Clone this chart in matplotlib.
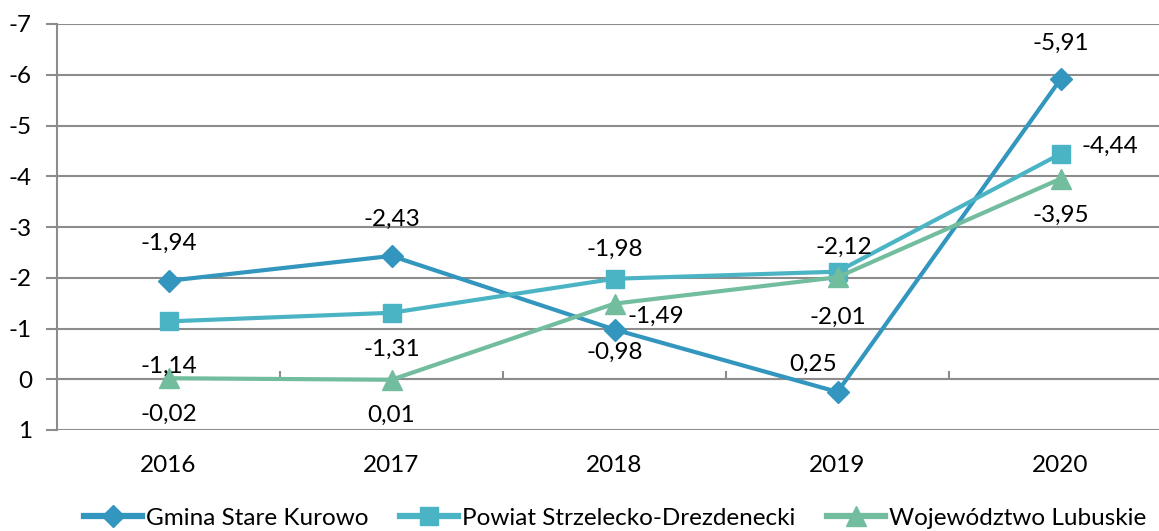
import matplotlib
matplotlib.use("Agg")
import matplotlib.pyplot as plt
import numpy as np

plt.rcParams['font.family'] = ['Lato', 'DejaVu Sans']

years = ["2016", "2017", "2018", "2019", "2020"]
gmina = [-1.94, -2.43, -0.98, 0.25, -5.91]
powiat = [-1.14, -1.31, -1.98, -2.12, -4.44]
woj = [-0.02, 0.01, -1.49, -2.01, -3.95]
series_names = ["Gmina Stare Kurowo", "Powiat Strzelecko-Drezdenecki", "Województwo Lubuskie"]
yticks = [-7, -6, -5, -4, -3, -2, -1, 0, 1]

colors = ["#3396BE", "#4BB4C4", "#72BD9E"]
markers = ["D", "s", "^"]
msizes = [11, 13, 14]

# label offsets in pixels (dx, dy) for each series / point
offsets = [
    [(0, 37), (0, 37), (0, -23), (-24, 28), (0, 36)],
    [(0, -45), (0, -37), (0, 29), (6, 24), (49, 8)],
    [(0, -36), (0, -36), (41, -13), (0, -40), (0, -37)],
]

FS = 17.5
W, H = 1159, 531
fig = plt.figure(figsize=(W / 100, H / 100), dpi=100)
ax = fig.add_axes([57 / W, 1 - 430 / H, (W - 57) / W, (430 - 24) / H])

x = np.arange(len(years))
for vals, c, m, ms, name, offs in zip([gmina, powiat, woj], colors, markers, msizes, series_names, offsets):
    ax.plot(x, vals, color=c, lw=3.0, marker=m, markersize=ms, label=name, zorder=3)
    for xi, v, (dx, dy) in zip(x, vals, offs):
        txt = f"{v:.2f}".replace(".", ",")
        ax.annotate(txt, (xi, v), xytext=(dx, dy), textcoords="offset pixels",
                    ha="center", va="center", fontsize=FS, color="#000000", zorder=4)

ax.set_ylim(1, -7)
ax.set_xlim(-0.5, -0.5 + (W - 57) / 223.0)
ax.set_yticks(yticks)
ax.set_yticklabels([str(t) for t in yticks], fontsize=FS)
ax.yaxis.grid(True, color="#8C8C8C", lw=1.5)
ax.set_axisbelow(True)
ax.tick_params(axis="y", length=8, width=1.5, color="#8C8C8C", pad=10)

ax.set_xticks(x)
ax.set_xticklabels(years, fontsize=FS)
ax.tick_params(axis="x", length=0, pad=18)

for s in ["top", "right", "bottom"]:
    ax.spines[s].set_visible(False)
ax.spines["left"].set_color("#8C8C8C")
ax.spines["left"].set_linewidth(1.5)

# category axis at zero with boundary tick marks
ax.axhline(0, color="#8C8C8C", lw=1.5, zorder=1)
bounds = np.arange(len(years)) + 0.5
ax.vlines(bounds, 0, -0.17, color="#8C8C8C", lw=1.5, zorder=1)

leg = fig.legend(loc="center", bbox_to_anchor=(615 / W, 1 - 518 / H), ncol=3, frameon=False,
                 fontsize=FS, handlelength=2.4, columnspacing=1.3, handletextpad=0.15)
for line in leg.get_lines():
    line.set_linewidth(4.5)

fig.savefig("out.png", dpi=100)
